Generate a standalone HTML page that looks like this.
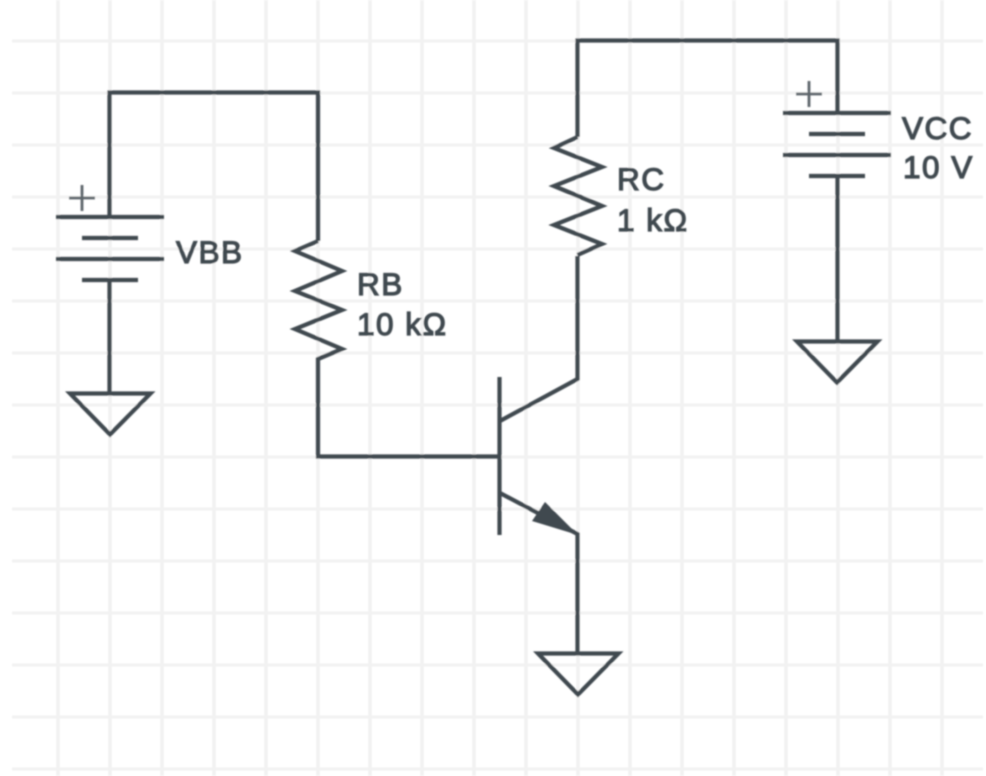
<!DOCTYPE html>
<html>
<head>
<meta charset="utf-8">
<style>
html,body{margin:0;padding:0;background:#fff;width:986px;height:776px;overflow:hidden}
svg{display:block}
text{font-family:"Liberation Sans",sans-serif;font-size:31.500px;font-weight:400;letter-spacing:1.500px;fill:#3f484f;stroke:#3f484f;stroke-width:1.200px}
</style>
</head>
<body>
<svg width="986" height="776" viewBox="0 0 986 776" xmlns="http://www.w3.org/2000/svg">
<defs><filter id="b" x="-5%" y="-5%" width="110%" height="110%"><feGaussianBlur stdDeviation="0.8"/></filter></defs>
<g filter="url(#b)">
<g fill="none">
<path stroke="#f2f2f2" stroke-width="3.500" d="M58 0V776M110 0V776M162 0V776M214 0V776M266 0V776M318 0V776M370 0V776M422 0V776M474 0V776M526 0V776M578 0V776M630 0V776M682 0V776M734 0V776M786 0V776M838 0V776M890 0V776M942 0V776"/>
<path stroke="#f2f2f2" stroke-width="3" d="M12 41H983M12 93H983M12 145H983M12 197H983M12 249H983M12 301H983M12 353H983M12 405H983M12 457H983M12 509H983M12 561H983M12 613H983M12 665H983M12 717H983M12 769H983"/>
</g>
<g stroke="#3f484f" stroke-width="4.200" fill="none" stroke-linejoin="miter">
<!-- VBB -->
<path d="M109.500 217V92.500H318V241"/>
<path d="M56 217H164M56 259H164M82 238H138M82 280H138"/>
<path d="M109.500 280V393"/>
<path d="M70 393.500H150.500L110 434.500Z"/>
<path d="M69 198H95M82 185V211" stroke="#5d656b" stroke-width="2.800"/>
<!-- RB -->
<path d="M318 241L295 251L342 271L295 291L342 310L295 329L342 349L318 359V456.500H500"/>
<!-- transistor -->
<path d="M499.500 377V535"/>
<path d="M500 421L577.500 379V256"/>
<path d="M500 493L577.500 534V652"/>
<path d="M532 521L545 502L578 535Z" fill="#3f484f" stroke="none"/>
<path d="M538 653.500H618.500L578 694.500Z"/>
<!-- RC -->
<path d="M577.500 137L554 148L602 167L554 186L602 206L554 225L602 244L577.500 255"/>
<path d="M577.500 137V40.500H837.500V113"/>
<!-- VCC -->
<path d="M783 113H891M783 155H891M809 134H865M809 176H865"/>
<path d="M837.500 176V341"/>
<path d="M797 341.500H877.500L837 382.500Z"/>
<path d="M796 94H822M809 81V107" stroke="#5d656b" stroke-width="2.800"/>
</g>
<text x="176" y="263">VBB</text>
<text x="357" y="295">RB</text>
<text x="357" y="335">10 kΩ</text>
<text x="617" y="190">RC</text>
<text x="617" y="231">1 kΩ</text>
<text x="902" y="139">VCC</text>
<text x="903" y="178">10 V</text>
</g>
</svg>
</body>
</html>
